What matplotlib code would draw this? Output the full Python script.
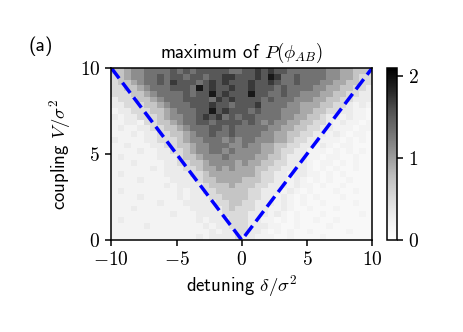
import numpy as np
import matplotlib
matplotlib.use('Agg')
import matplotlib.pyplot as plt
from matplotlib.ticker import FuncFormatter

plt.rcParams['mathtext.fontset'] = 'cm'
plt.rcParams['font.family'] = ['cmss10', 'DejaVu Sans']
plt.rcParams['axes.linewidth'] = 1.1
plt.rcParams['axes.unicode_minus'] = False

# heatmap, top row = V near 10, one char per cell
# digit d -> value 0.12 + 0.2 * d, 'h' is half a step (0.22)
rows = [
    "3345566667" "6767777766" "7787877666" "6665544333",
    "2345566767" "7677677887" "7787986676" "6665544322",
    "2334566768" "7776787877" "7877876676" "6655443322",
    "2233456667" "7769787787" "7877767666" "6554433221",
    "2223345666" "6767797877" "7977667665" "5544332211",
    "1222334566" "6777768787" "7776766655" "5443322111",
    "1122233456" "6677787767" "7786666554" "4433221h1h",
    "h112223345" "6667797877" "7676665554" "4332211hh0",
    "1h11222345" "5667878676" "7766665544" "33211h1hh0",
    "hh11h22334" "5667767777" "6765655443" "3221h1hh0h",
    "h1hh112233" "4566677676" "6666554433" "2211hhh0hh",
    "hhh1h11223" "3456676676" "6665544332" "211h1h0hh0",
    "1hhhh11222" "3455666565" "6655544322" "11hhh0h0h0",
    "hh1hhh1122" "3345566655" "6554433221" "1h1h0hh000",
    "hhhh1hh112" "2345566565" "5554432211" "hhh0h0h0h0",
    "h1hhhhh111" "2334555655" "5544332111" "hh0hh00h00",
    "hhh1hhhh11" "2233455554" "5443322111" "h0hh0h0h00",
    "hhhhhh1h11" "1223445454" "4433221111" "h0h0h00h00",
    "h1hhhhhh11" "1122344444" "4432211h11" "hh0h0h0000",
    "hhhh1hhhh1" "1112334444" "3332211h1h" "0h0h00h000",
    "hhhhhhhh1h" "1111233343" "3322111h1h" "h0h00h0000",
    "h1hhhhhhhh" "1h11223333" "322111h1h0" "h000h00h00",
    "hhhh1hhhhh" "1h11122333" "32211h1h0h" "0h000h0000",
    "hhhhhhh1hh" "h111112233" "22111h1h0h" "00h0000h00",
    "hhh1hhhhhh" "hh11111232" "2211hh1h00" "h000h00000",
    "hhhhhhhhh1" "hhh1111222" "2111h1h0h0" "00h00000h0",
    "h1hhhhhhhh" "hhh1h11122" "211hh0h0h0" "0h00h00000",
    "hhhhh1hhhh" "hhhh1h1122" "2111hh00h0" "000h000000",
    "hhhhhhhhhh" "hhhhh1h112" "211h0h0h00" "h00000h000",
    "hhhhhhhhhh" "hhh1h11112" "11hhh00h00" "00h0000000",
]
base, step = 0.12, 0.2
level = {str(d): float(d) for d in range(10)}
level['h'] = 0.5

delta_range = [-10, 10]
V_range = [0, 10]
xticks = [-10, -5, 0, 5, 10]
yticks = [0, 5, 10]
cticks = [0, 1, 2]

vals = base + step * np.array([[level[ch] for ch in r] for r in rows])
vals = vals[::-1]  # bottom row first
ny, nx = vals.shape
xe = np.linspace(delta_range[0], delta_range[1], nx + 1)
ye = np.linspace(V_range[0], V_range[1], ny + 1)

fig = plt.figure(figsize=(4.64, 3.32), dpi=100)
ax = fig.add_axes([0.240, 0.277, 0.562, 0.518])
cax = fig.add_axes([0.834, 0.277, 0.022, 0.518])

mesh = ax.pcolormesh(xe, ye, vals, cmap='Greys', vmin=0, vmax=2.1)
ax.plot([delta_range[0], 0, delta_range[1]], [V_range[1], 0, V_range[1]],
        color='blue', lw=2.5, ls='--')
ax.set_xlim(delta_range)
ax.set_ylim(V_range)

fmt = FuncFormatter(lambda v, p: r'$%g$' % v if v >= 0 else r'$-%g$' % -v)
ax.set_xticks(xticks)
ax.set_yticks(yticks)
ax.xaxis.set_major_formatter(fmt)
ax.yaxis.set_major_formatter(fmt)
ax.tick_params(labelsize=14, width=1.1, length=4.5)
ax.set_xlabel(r'detuning $\delta/\sigma^2$', fontsize=13.5, labelpad=3)
ax.set_ylabel(r'coupling $V/\sigma^2$', fontsize=13.5, labelpad=5)
ax.set_title(r'maximum of $P(\phi_{AB})$', fontsize=13.5, pad=7)
fig.text(0.062, 0.845, '(a)', fontsize=14, va='baseline')

cb = fig.colorbar(mesh, cax=cax, ticks=cticks)
cb.ax.yaxis.set_major_formatter(fmt)
cb.ax.tick_params(labelsize=14, width=1.1, length=4.5)
cb.outline.set_linewidth(1.1)

plt.savefig('out.png', dpi=100)
